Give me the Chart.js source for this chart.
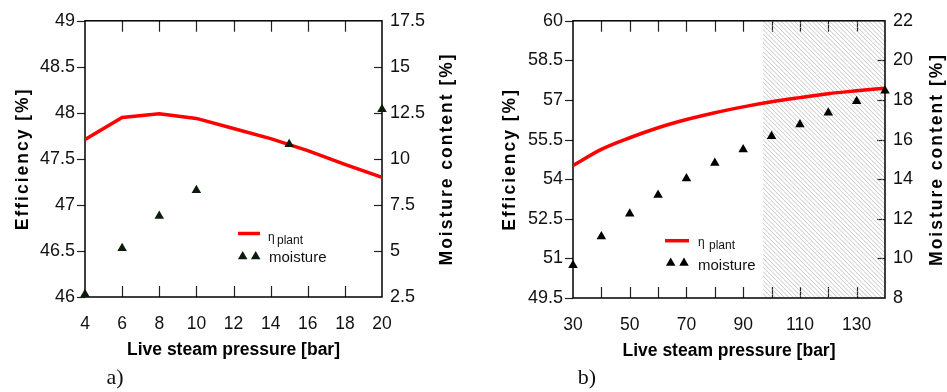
<!DOCTYPE html>
<html><head><meta charset="utf-8">
<script src="https://cdn.jsdelivr.net/npm/chart.js@4.4.1/dist/chart.umd.min.js"></script>
<style>
body{margin:0;background:#fff;width:947px;height:392px;overflow:hidden;position:relative}
canvas{position:absolute;top:0}
</style></head><body>
<canvas id="ca" width="470" height="392" style="left:0"></canvas>
<canvas id="cb" width="472" height="392" style="left:475px"></canvas>
<script>
// ---------- data: panel a) ----------
const pressureA = [4, 6, 8, 10, 12, 14, 16, 18, 20];
const efficiencyA = [47.71, 47.95, 47.99, 47.94, 47.83, 47.72, 47.59, 47.44, 47.30];
const moisturePressureA = [4, 6, 8, 10, 15, 20];
const moistureA = [2.65, 5.15, 6.9, 8.3, 10.8, 12.7];
const xTicksA = [4, 6, 8, 10, 12, 14, 16, 18, 20];
const effTicksA = [46, 46.5, 47, 47.5, 48, 48.5, 49];
const moistTicksA = [2.5, 5, 7.5, 10, 12.5, 15, 17.5];

// ---------- data: panel b) ----------
const pressureB = [30, 40, 50, 60, 70, 80, 90, 100, 110, 120, 130, 140];
const efficiencyB = [54.52, 55.13, 55.57, 55.95, 56.26, 56.52, 56.74, 56.93, 57.09, 57.24, 57.35, 57.45];
const moistureB = [9.65, 11.1, 12.26, 13.2, 14.04, 14.82, 15.5, 16.17, 16.76, 17.36, 17.94, 18.47];
const xTicksB = [30, 40, 50, 60, 70, 80, 90, 100, 110, 120, 130, 140];
const xTickLabelsB = [30, 50, 70, 90, 110, 130];
const effTicksB = [49.5, 51, 52.5, 54, 55.5, 57, 58.5, 60];
const moistTicksB = [8, 10, 12, 14, 16, 18, 20, 22];
const hatchStartB = 97;

// ---------- texts ----------
const effLabel = ['η', 'plant'];
const moistLabel = 'moisture';
const xTitle = 'Live steam pressure [bar]';
const effTitle = 'Efficiency [%]';
const moistTitle = 'Moisture content [%]';
const panelLabels = ['a)', 'b)'];

const SANS = "'Liberation Sans', Arial, sans-serif";

function tri(ctx, x, y, r) {
  ctx.beginPath();
  ctx.moveTo(x, y - r);
  ctx.lineTo(x + r * 0.866, y + r * 0.5);
  ctx.lineTo(x - r * 0.866, y + r * 0.5);
  ctx.closePath();
  ctx.fill();
}

function vText(ctx, text, x, y) {
  ctx.save();
  ctx.translate(x, y);
  ctx.rotate(-Math.PI / 2);
  ctx.font = "bold 17.5px " + SANS;
  try { ctx.letterSpacing = '2px'; } catch (e) {}
  ctx.textAlign = 'center';
  ctx.textBaseline = 'middle';
  ctx.fillStyle = '#000';
  ctx.fillText(text, 0, 0);
  ctx.restore();
}

const framePlugin = {
  id: 'frame',
  beforeDatasetsDraw(chart, args, o) {
    const { ctx, chartArea: a, scales } = chart;
    ctx.save();
    // ticks
    ctx.strokeStyle = '#222';
    ctx.lineWidth = 1.2;
    const xs = scales.x;
    xs.ticks.forEach(t => {
      if (t.value <= xs.min || t.value >= xs.max) return;
      const px = Math.round(xs.getPixelForValue(t.value)) + 0.5;
      ctx.beginPath();
      ctx.moveTo(px, a.top); ctx.lineTo(px, a.top + 11);
      ctx.moveTo(px, a.bottom); ctx.lineTo(px, a.bottom - 11);
      ctx.stroke();
    });
    const yl = scales.y;
    yl.ticks.forEach(t => {
      const py = Math.round(yl.getPixelForValue(t.value)) + 0.5;
      ctx.beginPath(); ctx.moveTo(a.left - 8, py); ctx.lineTo(a.left, py); ctx.stroke();
    });
    const yr = scales.y1;
    yr.ticks.forEach(t => {
      if (t.value <= yr.min || t.value >= yr.max) return;
      const py = Math.round(yr.getPixelForValue(t.value)) + 0.5;
      ctx.beginPath(); ctx.moveTo(a.right - 8, py); ctx.lineTo(a.right, py); ctx.stroke();
    });
    if (o.hatchFrom != null) {
      const x0 = scales.x.getPixelForValue(o.hatchFrom);
      ctx.save();
      ctx.beginPath();
      ctx.rect(x0, a.top, a.right - x0, a.bottom - a.top);
      ctx.clip();
      ctx.strokeStyle = '#b4b4b4';
      ctx.lineWidth = 0.75;
      const h = a.bottom - a.top;
      for (let x = x0 - h; x < a.right + 5; x += 4.4) {
        ctx.beginPath();
        ctx.moveTo(x, a.top);
        ctx.lineTo(x + h, a.bottom);
        ctx.stroke();
      }
      ctx.restore();
    }
    // frame
    ctx.strokeStyle = '#000';
    ctx.lineWidth = 1.5;
    ctx.strokeRect(a.left, a.top, a.right - a.left, a.bottom - a.top);
    ctx.restore();
  },
  afterDraw(chart, args, o) {
    const { ctx } = chart;
    const a = chart.chartArea;
    const cy = (a.top + a.bottom) / 2;
    vText(ctx, effTitle, o.effTitleX, cy);
    vText(ctx, moistTitle, o.moistTitleX, cy);
    // legend
    const L = o.legend;
    const ds0 = chart.data.datasets[0], ds1 = chart.data.datasets[1];
    ctx.save();
    ctx.strokeStyle = ds0.borderColor;
    ctx.lineWidth = 3.5;
    ctx.beginPath(); ctx.moveTo(L.lineX0, L.lineY); ctx.lineTo(L.lineX1, L.lineY); ctx.stroke();
    ctx.fillStyle = '#111';
    ctx.textAlign = 'left';
    ctx.textBaseline = 'alphabetic';
    ctx.font = "12px " + SANS;
    ctx.fillText(ds0.label[0], L.etaX, L.etaY);
    ctx.font = "12px " + SANS;
    ctx.fillText(ds0.label[1], L.etaX + L.subDx, L.etaY + 2.5);
    ctx.fillStyle = ds1.pointBackgroundColor;
    tri(ctx, L.triX0, L.triY, 5.5);
    tri(ctx, L.triX1, L.triY, 5.5);
    ctx.fillStyle = '#111';
    ctx.font = "15px " + SANS;
    ctx.fillText(ds1.label, L.textX, L.textY);
    // panel label
    ctx.font = "22px 'Liberation Serif', 'Times New Roman', serif";
    ctx.textAlign = 'center';
    ctx.textBaseline = 'middle';
    ctx.fillText(o.panel, o.panelX, 378);
    ctx.restore();
  }
};

function makeChart(id, c) {
  const fixTicks = arr => s => { s.ticks = arr.map(v => ({ value: v })); };
  return new Chart(document.getElementById(id), {
    type: 'line',
    data: {
      datasets: [
        {
          label: effLabel,
          data: c.xEff.map((p, i) => ({ x: p, y: c.eff[i] })),
          borderColor: '#ff0000', backgroundColor: '#ff0000',
          borderWidth: 3.5, pointRadius: 0, tension: 0,
          cubicInterpolationMode: c.smooth ? 'monotone' : 'default',
          yAxisID: 'y', order: 2
        },
        {
          label: moistLabel,
          data: c.xMoist.map((p, i) => ({ x: p, y: c.moist[i] })),
          showLine: false, pointStyle: 'triangle', pointRadius: 5.5,
          pointBackgroundColor: c.markColor, pointBorderColor: c.markColor,
          pointBorderWidth: 0, borderColor: c.markColor,
          yAxisID: 'y1', order: 1, clip: false
        }
      ]
    },
    options: {
      responsive: false, animation: false,
      layout: { padding: { top: c.padTop, bottom: c.padBottom, left: 0, right: 0 } },
      plugins: {
        legend: { display: false }, tooltip: { enabled: false },
        frame: c.frame
      },
      scales: {
        x: {
          type: 'linear', min: c.xTicks[0], max: c.xTicks[c.xTicks.length - 1],
          afterBuildTicks: fixTicks(c.xTicks),
          ticks: {
            callback: v => (c.xLabels.includes(v) ? String(v) : ''),
            font: { family: SANS, size: 17.5 }, color: '#111', padding: 17,
            maxRotation: 0, autoSkip: false
          },
          grid: { display: false, drawTicks: false }, border: { display: false },
          title: { display: true, text: xTitle, color: '#000',
                   font: { family: SANS, size: 17.5, weight: 'bold' }, padding: { top: 0, bottom: 1 } },
          afterFit: s => { s.height = 65; }
        },
        y: {
          position: 'left', min: c.effTicks[0], max: c.effTicks[c.effTicks.length - 1],
          afterBuildTicks: fixTicks(c.effTicks),
          ticks: { callback: v => String(v), font: { family: SANS, size: 18 }, color: '#111', padding: 10 },
          grid: { display: false, drawTicks: false }, border: { display: false },
          afterFit: s => { s.width = c.leftW; }
        },
        y1: {
          position: 'right', min: c.moistTicks[0], max: c.moistTicks[c.moistTicks.length - 1],
          afterBuildTicks: fixTicks(c.moistTicks),
          ticks: { callback: v => String(v), font: { family: SANS, size: 18 }, color: '#111', padding: 8 },
          grid: { display: false, drawTicks: false }, border: { display: false },
          afterFit: s => { s.width = c.rightW; }
        }
      }
    },
    plugins: [framePlugin]
  });
}

makeChart('ca', {
  xEff: pressureA, eff: efficiencyA, xMoist: moisturePressureA, moist: moistureA,
  xTicks: xTicksA, xLabels: xTicksA, effTicks: effTicksA, moistTicks: moistTicksA,
  smooth: false, markColor: '#0b1c0b',
  padTop: 18, padBottom: 30, leftW: 85, rightW: 88,
  frame: {
    hatchFrom: null, effTitleX: 23, moistTitleX: 447, panel: panelLabels[0], panelX: 115,
    legend: { lineX0: 238, lineX1: 260, lineY: 233.5, etaX: 268, etaY: 241, subDx: 9,
              triX0: 242.7, triX1: 255.7, triY: 256.5, textX: 269, textY: 261.5 }
  }
});

makeChart('cb', {
  xEff: pressureB, eff: efficiencyB, xMoist: pressureB, moist: moistureB,
  xTicks: xTicksB, xLabels: xTickLabelsB, effTicks: effTicksB, moistTicks: moistTicksB,
  smooth: true, markColor: '#000000',
  padTop: 15, padBottom: 29, leftW: 98, rightW: 62,
  frame: {
    hatchFrom: hatchStartB, effTitleX: 35, moistTitleX: 462, panel: panelLabels[1], panelX: 112,
    legend: { lineX0: 190, lineX1: 214, lineY: 240.7, etaX: 223, etaY: 246, subDx: 11,
              triX0: 195.7, triX1: 209, triY: 263, textX: 223, textY: 269.5 }
  }
});
</script>
</body></html>
